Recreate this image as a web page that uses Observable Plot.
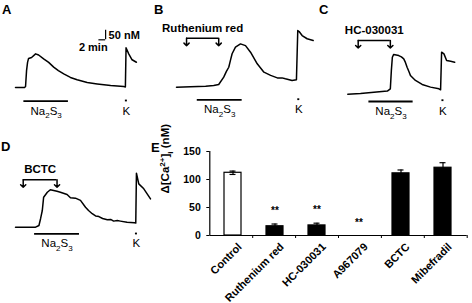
<!DOCTYPE html>
<html><head><meta charset="utf-8">
<script src="https://cdn.jsdelivr.net/npm/d3@7"></script>
<script src="https://cdn.jsdelivr.net/npm/@observablehq/plot@0.6"></script>
<style>
body{margin:0;background:#fff}
#fig{position:relative;width:472px;height:303px;background:#fff;overflow:hidden;font-family:"Liberation Sans",Arial,sans-serif}
.lt{position:absolute;font-weight:bold;font-size:13px;line-height:13px;color:#000}
</style></head><body>
<div id="fig"></div>
<script>
// ---------------- data ----------------
// Traces: time (min) and change in [Ca2+]i (nM) relative to baseline
const traceA_t  = [0, 2.7, 3.0, 3.3, 3.6, 3.9, 4.8, 6.0, 6.9, 8.4, 9.9, 11.4, 12.8, 14.4, 16.4, 18.4, 21.4, 24.4, 28.4, 32.3, 32.8, 33.0, 33.8, 34.8, 36.1];
const traceA_ca = [0, 0, 5, 89, 132, 153, 158, 177, 171, 151, 132, 107, 89, 72, 53, 41, 26, 19, 11, 5, 3, 209, 177, 146, 133];
const traceB_t  = [0, 4.2, 8.7, 11.1, 12.6, 14.1, 14.9, 15.6, 16.1, 16.6, 17.6, 19.1, 20.6, 22.1, 24.1, 26.1, 28.1, 30.1, 31.5, 32.5, 34.5, 35.8, 36.2, 36.6, 37.5, 39.0, 40.8];
const traceB_ca = [0, 2, 5, 9, 14, 53, 83, 105, 141, 176, 211, 228, 219, 184, 123, 79, 62, 49, 49, 44, 35, 39, 298, 293, 272, 255, 246];
const traceC_t  = [0, 3.8, 7.8, 11.8, 12.7, 13.0, 13.3, 13.7, 15.2, 16.0, 16.7, 17.2, 17.7, 18.3, 18.7, 20.2, 22.2, 24.7, 27.2, 27.7, 28.0, 28.7, 29.5, 30.7, 31.9];
const traceC_ca = [-5, -2, 5, 11, 23, 119, 189, 204, 198, 191, 181, 162, 137, 112, 93, 67, 46, 32, 23, 18, 216, 207, 172, 168, 163];
const traceD_t  = [0, 6.0, 7.0, 7.5, 8.0, 8.4, 9.5, 10.4, 11.4, 12.4, 13.4, 15.4, 16.4, 17.9, 19.4, 20.9, 21.8, 22.9, 23.9, 24.9, 26.0, 27.4, 28.4, 29.3, 30.4, 31.3, 33.3, 35.5, 35.9, 36.1, 36.8, 38.3, 40.3];
const traceD_ca = [0, 0, 9, 46, 88, 158, 184, 197, 193, 189, 184, 172, 155, 153, 141, 105, 88, 71, 59, 56, 46, 39, 41, 32, 35, 32, 26, 23, 22, 284, 228, 202, 149];

// Application periods (min)
const panelIds     = ["A", "B", "C", "D"];
const na2s3On      = [2.5, 6.2, 6.3, 5.7];
const na2s3Off     = [15.8, 19.6, 19.5, 19.1];
const kAt          = [33.1, 36.5, 28.4, 36.1];
const blockerName  = ["", "Ruthenium red", "HC-030031", "BCTC"];
const blockerOn    = [null, 3.0, 3.1, 2.3];
const blockerOff   = [null, 12.6, 12.7, 12.4];
const scaleBarNM   = 50;
const scaleBarMin  = 2;

// Panel E
const categories = ["Control", "Ruthenium red", "HC-030031", "A967079", "BCTC", "Mibefradil"];
const meanCa     = [112, 16.5, 18, 0, 111, 121];
const semCa      = [3, 4, 4, 0, 6, 9];
const signif     = ["", "**", "**", "**", "", ""];
const yTicks     = [0, 50, 100, 150];

// ---------------- layout ----------------
const W = 472, H = 303;
const FONT = '"Liberation Sans", Arial, sans-serif';
const PX_PER_MIN = 3.35, PX_PER_NM = 0.19;
const traces = [[traceA_t, traceA_ca], [traceB_t, traceB_ca], [traceC_t, traceC_ca], [traceD_t, traceD_ca]];
const layout = [
  {x0: 15,    y0: 87,    barDy: 13.7, kDy: 13,  brDy: 0},
  {x0: 176,   y0: 86.7,  barDy: 12.6, kDy: 12,  brDy: -49},
  {x0: 347.3, y0: 92.7,  barDy: 8.3,  kDy: 7,   brDy: -52.7},
  {x0: 15,    y0: 226.7, barDy: 6.6,  kDy: 6.3, brDy: -47.4}
];
const scaleBarPos = {t: 26.9, ca: 251};
const svgStyle = {position: "absolute", left: "0px", top: "0px", background: "none", overflow: "visible", maxWidth: "none", fontFamily: FONT};

function tracePlot(i) {
  const L = layout[i];
  const [tt, cc] = traces[i];
  const pts = tt.map((d, j) => ({t: d, ca: cc[j]}));
  const mid = (na2s3On[i] + na2s3Off[i]) / 2;
  const marks = [
    Plot.line(pts, {x: "t", y: "ca", stroke: "black", strokeWidth: 1.5}),
    Plot.ruleY([0], {x1: na2s3On[i], x2: na2s3Off[i], dy: L.barDy, strokeWidth: 1.8}),
    Plot.ruleY([0], {x1: kAt[i] - 0.3, x2: kAt[i] + 0.3, dy: L.kDy, strokeWidth: 1.8}),
    Plot.text(["Na_2S_3"], {x: mid, y: 0, dy: L.barDy + 10, text: d => d, fontSize: 11.5, fill: "black"}),
    Plot.text(["K"], {x: kAt[i], y: 0, dy: L.barDy + 10, text: d => d, fontSize: 11.5, fill: "black"})
  ];
  if (blockerName[i]) {
    const on = blockerOn[i], off = blockerOff[i];
    marks.push(
      Plot.ruleY([0], {x1: on, x2: off, dy: L.brDy, strokeWidth: 1.5}),
      Plot.vector([on, off], {x: d => d, y: 0, dy: L.brDy, length: 7.5, rotate: 180, anchor: "start", r: 6, strokeWidth: 1.5, stroke: "black"}),
      Plot.text([blockerName[i]], {x: (on + off) / 2, y: 0, dy: L.brDy - 10, text: d => d, fontSize: 11.5, fontWeight: "bold", fill: "black"})
    );
  }
  if (i === 0) {
    const s = scaleBarPos;
    marks.push(
      Plot.ruleX([s.t], {y1: s.ca, y2: s.ca + scaleBarNM, strokeWidth: 1.2}),
      Plot.ruleY([s.ca], {x1: s.t - scaleBarMin, x2: s.t, strokeWidth: 1.2}),
      Plot.text([scaleBarNM + " nM"], {x: s.t, y: s.ca + scaleBarNM / 2, dx: 3, textAnchor: "start", text: d => d, fontSize: 11, fontWeight: "bold", fill: "black"}),
      Plot.text([scaleBarMin + " min"], {x: s.t, y: s.ca, dx: 2, dy: 8, textAnchor: "end", text: d => d, fontSize: 11, fontWeight: "bold", fill: "black"})
    );
  }
  return Plot.plot({
    width: W, height: H,
    x: {domain: [0, 10], range: [L.x0, L.x0 + 10 * PX_PER_MIN], axis: null},
    y: {domain: [0, 100], range: [L.y0, L.y0 - 100 * PX_PER_NM], axis: null},
    style: svgStyle,
    marks
  });
}

const eData = categories.map((c, i) => ({cat: c, mean: meanCa[i], sem: semCa[i], sig: signif[i]}));
const errs = eData.filter(d => d.sem > 0);
const eMargins = {marginLeft: 209.3, marginRight: W - 466.7, marginTop: 151, marginBottom: H - 235};

const eBars = Plot.plot({
  width: W, height: H, ...eMargins,
  x: {type: "band", domain: categories, paddingInner: 0.59, paddingOuter: 0.295, axis: null},
  y: {domain: [0, 150], axis: null},
  color: {type: "identity"},
  style: svgStyle,
  marks: [
    Plot.barY(eData.filter(d => d.mean > 0), {x: "cat", y: "mean", fill: d => d.cat === "Control" ? "white" : "black", stroke: "black", strokeWidth: 1.2}),
    Plot.ruleX(errs, {x: "cat", y1: d => d.mean - d.sem, y2: d => d.mean + d.sem, strokeWidth: 1.2}),
    Plot.tickY(errs, {x: "cat", y: d => d.mean + d.sem, insetLeft: 5.5, insetRight: 5.5, strokeWidth: 1.2}),
    Plot.tickY(errs, {x: "cat", y: d => d.mean - d.sem, insetLeft: 5.5, insetRight: 5.5, strokeWidth: 1.2}),
    Plot.text(eData.filter(d => d.sig), {x: "cat", y: d => d.mean + d.sem, text: "sig", dy: -13, fontSize: 10, fontWeight: "bold", fill: "black"}),
    Plot.axisY({ticks: yTicks, tickSize: 3, tickPadding: 6, fontSize: 10.5, fontWeight: "bold", label: null}),
    Plot.text(categories, {x: d => d, frameAnchor: "bottom", rotate: -45, textAnchor: "end", dx: 9.5, dy: 12, text: d => d, fontSize: 11, fontWeight: "bold", fill: "black"}),
    Plot.text(["Δ[Ca^{2+}]_i (nM)"], {frameAnchor: "left", rotate: -90, dx: -44, text: d => d, fontSize: 11.5, fontWeight: "bold", fill: "black"})
  ]
});

const eAxes = Plot.plot({
  width: W, height: H, ...eMargins,
  x: {domain: [0, categories.length], axis: null},
  y: {domain: [0, 150], axis: null},
  style: svgStyle,
  marks: [
    Plot.ruleY([0], {strokeWidth: 1.2}),
    Plot.ruleX([0], {y1: 0, y2: 150, strokeWidth: 1.2}),
    Plot.axisX({ticks: d3.range(1, categories.length + 1), tickSize: 3, tickFormat: () => "", label: null})
  ]
});

const fig = document.getElementById("fig");
[0, 1, 2, 3].forEach(i => fig.appendChild(tracePlot(i)));
fig.appendChild(eBars);
fig.appendChild(eAxes);

// panel letters
const letterPos = {A: [2, 2.5], B: [154, 2.5], C: [319, 2.5], D: [1, 139.5], E: [151, 140.5]};
for (const k of [...panelIds, "E"]) {
  const d = document.createElement("div");
  d.className = "lt"; d.textContent = k;
  d.style.left = letterPos[k][0] + "px"; d.style.top = letterPos[k][1] + "px";
  fig.appendChild(d);
}

// rich text: _x subscript, ^x superscript
function richify(root) {
  d3.select(root).selectAll("text").each(function () {
    const s = this.textContent;
    if (!/[_^]/.test(s)) return;
    const fs = parseFloat(getComputedStyle(this).fontSize) || 11;
    const sel = d3.select(this); sel.text(null);
    let shift = 0, m;
    const re = /([_^])\{([^}]*)\}|([_^])(.)|([^_^]+)/g;
    while ((m = re.exec(s))) {
      const kind = m[1] || m[3] || "";
      const txt = m[2] !== undefined ? m[2] : (m[4] !== undefined ? m[4] : m[5]);
      const target = kind === "_" ? fs * 0.3 : kind === "^" ? -fs * 0.4 : 0;
      const t = sel.append("tspan").text(txt);
      if (target !== shift) t.attr("dy", target - shift);
      if (kind) t.attr("font-size", fs * 0.7);
      shift = target;
    }
  });
}
richify(fig);
</script></body></html>
